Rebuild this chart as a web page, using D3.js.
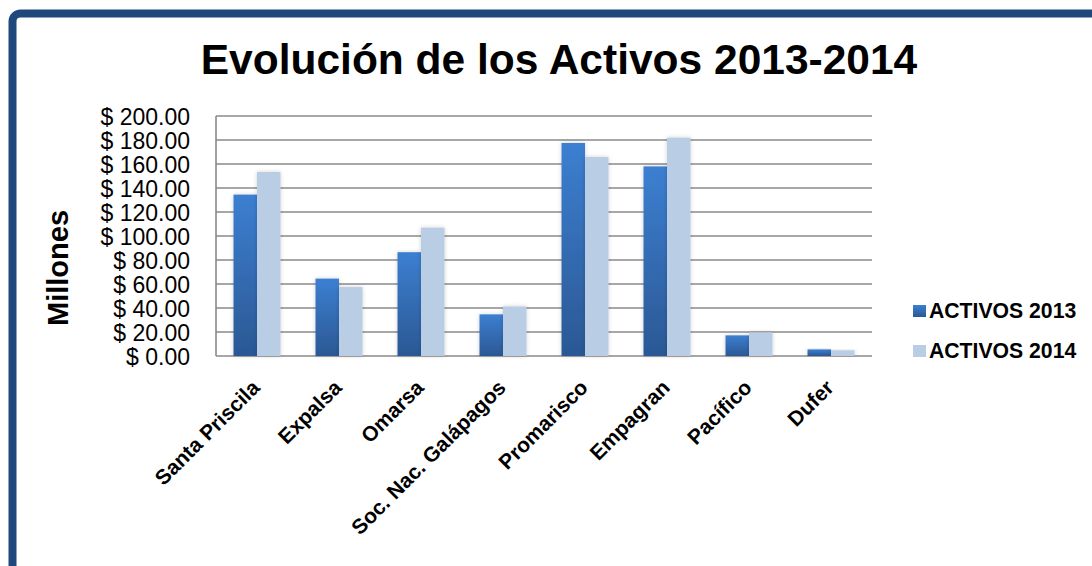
<!DOCTYPE html>
<html>
<head>
<meta charset="utf-8">
<script src="https://cdn.jsdelivr.net/npm/d3@7"></script>
<style>
  body { margin: 0; background: #fff; }
  svg { display: block; font-family: "Liberation Sans", Arial, sans-serif; }
</style>
</head>
<body>
<svg id="chart" width="1092" height="566"></svg>
<script>
const categories = ["Santa Priscila", "Expalsa", "Omarsa", "Soc. Nac. Galápagos",
                    "Promarisco", "Empagran", "Pacífico", "Dufer"];
const activos2013 = [134.5, 64.5, 86.5, 34.7, 177.5, 158, 17.2, 5.5];
const activos2014 = [153.3, 57.4, 107, 41.3, 165.8, 182, 19.7, 4.7];
const seriesNames = ["ACTIVOS 2013", "ACTIVOS 2014"];
const yTicks = [0, 20, 40, 60, 80, 100, 120, 140, 160, 180, 200];

function whenDocumentLoaded(action) {
  if (document.readyState === "loading") {
    document.addEventListener("DOMContentLoaded", action);
  } else {
    action();
  }
}

whenDocumentLoaded(() => {
  const svg = d3.select("#chart");
  const left = 216, right = 872, top = 116, bottom = 356;

  const defs = svg.append("defs");
  const grad = defs.append("linearGradient")
    .attr("id", "g2013").attr("x1", 0).attr("y1", 0).attr("x2", 0).attr("y2", 1);
  grad.append("stop").attr("offset", "0%").attr("stop-color", "#3c7fd1");
  grad.append("stop").attr("offset", "100%").attr("stop-color", "#2b5894");

  const shadow = defs.append("filter").attr("id", "shadow")
    .attr("x", "-30%").attr("y", "-10%").attr("width", "160%").attr("height", "120%");
  shadow.append("feDropShadow").attr("dx", 0).attr("dy", 0)
    .attr("stdDeviation", 2).attr("flood-color", "#000").attr("flood-opacity", 0.18);

  // outer border
  svg.append("rect")
    .attr("x", 12.5).attr("y", 13.5)
    .attr("width", 1200).attr("height", 700)
    .attr("rx", 8)
    .attr("fill", "none")
    .attr("stroke", "#1f497d")
    .attr("stroke-width", 8);

  // title
  svg.append("text")
    .attr("x", 559).attr("y", 74)
    .attr("text-anchor", "middle")
    .style("font-size", "42.5px")
    .style("font-weight", "bold")
    .text("Evolución de los Activos 2013-2014");

  const y = d3.scaleLinear().domain([0, 200]).range([bottom, top]);
  const x0 = d3.scaleBand().domain(categories).range([left, right])
    .paddingInner(0.427).paddingOuter(0.2135);
  const x1 = d3.scaleBand().domain(seriesNames).range([0, x0.bandwidth()]);

  // gridlines
  svg.append("g")
    .selectAll("line")
    .data(yTicks)
    .enter()
    .append("line")
    .attr("x1", left).attr("x2", right)
    .attr("y1", d => y(d)).attr("y2", d => y(d))
    .attr("stroke", "#8a8a8a")
    .attr("stroke-width", 1.6);

  svg.append("line")
    .attr("x1", left).attr("x2", left)
    .attr("y1", y(200)).attr("y2", y(0))
    .attr("stroke", "#8a8a8a")
    .attr("stroke-width", 1.6);

  // y axis labels
  const yAxis = d3.axisLeft(y).tickValues(yTicks).tickSize(0).tickPadding(0)
    .tickFormat(d => "$ " + d.toFixed(2));
  const ya = svg.append("g").attr("transform", `translate(${left - 26},0)`).call(yAxis);
  ya.select(".domain").remove();
  ya.selectAll("text")
    .attr("dy", "0.36em")
    .style("font-size", "23px")
    .style("font-family", "Liberation Sans, Arial, sans-serif")
    .attr("fill", "#000");

  // bars
  const rows = categories.map((c, i) => ({ cat: c, vals: [activos2013[i], activos2014[i]] }));
  const groups = svg.append("g").selectAll("g")
    .data(rows)
    .enter()
    .append("g")
    .attr("transform", d => `translate(${x0(d.cat)},0)`);

  groups.selectAll("rect")
    .data(d => d.vals.map((v, k) => ({ key: seriesNames[k], v: v })))
    .enter()
    .append("rect")
    .attr("x", d => x1(d.key))
    .attr("y", d => y(d.v))
    .attr("width", x1.bandwidth())
    .attr("height", d => y(0) - y(d.v))
    .attr("fill", d => d.key === seriesNames[0] ? "url(#g2013)" : "#b9cde5")
    .attr("filter", "url(#shadow)");

  // x labels
  svg.append("g").selectAll("text")
    .data(categories)
    .enter()
    .append("text")
    .attr("transform", d => `translate(${x0(d) + x0.bandwidth() / 2 + 4},389) rotate(-45)`)
    .attr("text-anchor", "end")
    .style("font-size", "21px")
    .style("font-weight", "bold")
    .text(d => d);

  // y title
  svg.append("text")
    .attr("transform", "translate(68,268) rotate(-90)")
    .attr("text-anchor", "middle")
    .style("font-size", "29px")
    .style("font-weight", "bold")
    .text("Millones");

  // legend
  const legend = svg.append("g").selectAll("g")
    .data(seriesNames)
    .enter()
    .append("g")
    .attr("transform", (d, i) => `translate(913,${305 + i * 40})`);
  legend.append("rect")
    .attr("width", 13).attr("height", 12)
    .attr("fill", (d, i) => i === 0 ? "url(#g2013)" : "#b9cde5");
  legend.append("text")
    .attr("x", 16).attr("y", 12.5)
    .style("font-size", "21.2px")
    .style("font-weight", "bold")
    .text(d => d);
});
</script>
</body>
</html>
